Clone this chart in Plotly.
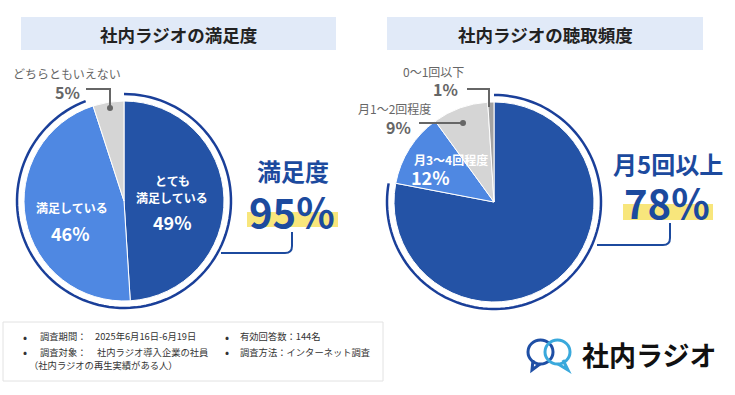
import numpy as np
import plotly.graph_objects as go

# ---- data ----
sat_labels = ["とても満足している", "満足している", "どちらともいえない"]
sat_values = [49, 46, 5]
sat_colors = ["#2453a6", "#4f88e2", "#d5d5d5"]

freq_labels = ["月5回以上", "月3〜4回程度", "月1〜2回程度", "0〜1回以下"]
freq_values = [78, 12, 9, 1]
freq_colors = ["#2453a6", "#4f88e2", "#d5d5d5", "#a2a2a2"]

titles = ["社内ラジオの満足度", "社内ラジオの聴取頻度"]
note_keys = ["調査期間：", "調査対象："]
note_vals = ["2025年6月16日-6月19日", "社内ラジオ導入企業の社員"]
notes_right = ["有効回答数：144名", "調査方法：インターネット調査"]
note_extra = "（社内ラジオの再生実績がある人）"
brand = "社内ラジオ"

W, H = 735, 395
FONT = "Noto Sans CJK JP"
DARK = "#1c4a9e"
GRAYT = "#666666"


def px_dom(cx, cy, r):
    return dict(x=[(cx - r) / W, (cx + r) / W], y=[1 - (cy + r) / H, 1 - (cy - r) / H])


fig = go.Figure()
fig.add_trace(go.Pie(labels=sat_labels, values=sat_values, sort=False, direction="clockwise",
                     rotation=0, textinfo="none", hoverinfo="label+percent",
                     marker=dict(colors=sat_colors, line=dict(color="white", width=1)),
                     domain=px_dom(124, 201, 100), showlegend=False))
fig.add_trace(go.Pie(labels=freq_labels, values=freq_values, sort=False, direction="clockwise",
                     rotation=0, textinfo="none", hoverinfo="label+percent",
                     marker=dict(colors=freq_colors, line=dict(color="white", width=1)),
                     domain=px_dom(494, 202, 100), showlegend=False))

shapes = []
ann = []


def ring(cx, cy, r, a0, a1):
    a = np.radians(np.linspace(a0, a1, 120))
    xs = cx + r * np.sin(a)
    ys = cy - r * np.cos(a)
    p = "M " + " L ".join(f"{x:.2f},{y:.2f}" for x, y in zip(xs, ys))
    return dict(type="path", path=p, xref="x", yref="y", line=dict(color="#1a3f99", width=2.5))


shapes.append(ring(124, 201, 107, 0, 339))
shapes.append(ring(494, 202, 107, 0, 280))

# title boxes
for (x0, x1), t in zip([(21, 336), (387, 703)], titles):
    shapes.append(dict(type="rect", xref="x", yref="y", x0=x0, x1=x1, y0=17, y1=50,
                       fillcolor="#e1eaf8", line=dict(width=0), layer="below"))
    ann.append(dict(x=(x0 + x1) / 2, y=34, text=f"<b>{t}</b>", font=dict(size=17.5, color="#222")))

# yellow highlights
shapes.append(dict(type="rect", xref="x", yref="y", x0=247, x1=338, y0=212, y1=227,
                   fillcolor="#f8e67c", line=dict(width=0)))
shapes.append(dict(type="rect", xref="x", yref="y", x0=623, x1=713, y0=204, y1=220,
                   fillcolor="#f8e67c", line=dict(width=0)))

# big-label connectors
shapes.append(dict(type="path", xref="x", yref="y",
                   path="M 221,253 L 285,253 Q 292,253 292,246 L 292,232",
                   line=dict(color=DARK, width=2)))
shapes.append(dict(type="path", xref="x", yref="y",
                   path="M 597,245 L 663,245 Q 670,245 670,238 L 670,223",
                   line=dict(color=DARK, width=2)))

# small-label connectors
shapes.append(dict(type="path", xref="x", yref="y", path="M 86,89 L 110,89 L 110,108",
                   line=dict(color=GRAYT, width=2)))
shapes.append(dict(type="circle", xref="x", yref="y", x0=107, x1=113, y0=105, y1=111,
                   fillcolor=GRAYT, line=dict(width=0)))
shapes.append(dict(type="path", xref="x", yref="y", path="M 467,89 L 489,89 L 489,107",
                   line=dict(color=GRAYT, width=2)))
shapes.append(dict(type="path", xref="x", yref="y", path="M 419,123 L 463,123",
                   line=dict(color=GRAYT, width=2)))
shapes.append(dict(type="circle", xref="x", yref="y", x0=460, x1=466, y0=120, y1=126,
                   fillcolor=GRAYT, line=dict(width=0)))

# left pie labels
ann.append(dict(x=172, y=180, text="<b>とても</b>", font=dict(size=12, color="white")))
ann.append(dict(x=172, y=197, text="<b>" + sat_labels[0][3:] + "</b>", font=dict(size=12, color="white")))
ann.append(dict(x=172, y=222, text=f"<b>{sat_values[0]}%</b>", font=dict(size=18, color="white")))
ann.append(dict(x=72, y=207, text=f"<b>{sat_labels[1]}</b>", font=dict(size=12, color="white")))
ann.append(dict(x=70, y=233, text=f"<b>{sat_values[1]}%</b>", font=dict(size=18, color="white")))
ann.append(dict(x=67, y=73, text=sat_labels[2], font=dict(size=12, color=GRAYT)))
ann.append(dict(x=67, y=92, text=f"<b>{sat_values[2]}%</b>", font=dict(size=16, color=GRAYT)))
ann.append(dict(x=293, y=170, text="<b>満足度</b>", font=dict(size=24, color=DARK), height=32))
ann.append(dict(x=292, y=211, text=f"<b>{sat_values[0] + sat_values[1]}%</b>",
                font=dict(size=40, color=DARK), height=44))

# right pie labels
ann.append(dict(x=433, y=71, text=freq_labels[3], font=dict(size=12, color=GRAYT)))
ann.append(dict(x=445, y=89, text=f"<b>{freq_values[3]}%</b>", font=dict(size=16, color=GRAYT)))
ann.append(dict(x=394, y=107.5, text=freq_labels[2], font=dict(size=12, color=GRAYT), height=16))
ann.append(dict(x=398, y=126.5, text=f"<b>{freq_values[2]}%</b>", font=dict(size=16, color=GRAYT), height=20))
ann.append(dict(x=412, y=159, text=f"<b>{freq_labels[1]}</b>", font=dict(size=12, color="white"), xanchor="left"))
ann.append(dict(x=409, y=177, text=f"<b>{freq_values[1]}%</b>", font=dict(size=18, color="white"), xanchor="left"))
ann.append(dict(x=668, y=163, text=f"<b>{freq_labels[0]}</b>", font=dict(size=24, color=DARK), height=32))
ann.append(dict(x=667, y=202, text=f"<b>{freq_values[0]}%</b>", font=dict(size=40, color=DARK), height=44))

# notes box
shapes.append(dict(type="rect", xref="x", yref="y", x0=3, x1=383, y0=322, y1=381,
                   fillcolor="white", line=dict(color="#e2e2e2", width=1)))
NS = 9.3
for i, (k, v) in enumerate(zip(note_keys, note_vals)):
    y = 336 + i * 15.5
    ann.append(dict(x=25, y=y, text="•", font=dict(size=12, color="#333")))
    ann.append(dict(x=38, y=y, text=k, xanchor="left", font=dict(size=NS, color="#333")))
    ann.append(dict(x=93 + 2 * i, y=y, text=v, xanchor="left", font=dict(size=NS, color="#333")))
for i, t in enumerate(notes_right):
    y = 336 + i * 15.5
    ann.append(dict(x=227, y=y, text="•", font=dict(size=12, color="#333")))
    ann.append(dict(x=238, y=y, text=t, xanchor="left", font=dict(size=NS, color="#333")))
ann.append(dict(x=27, y=365, text=note_extra, xanchor="left", font=dict(size=NS, color="#333")))

# logo
shapes.append(dict(type="circle", xref="x", yref="y", x0=528, x1=553, y0=340, y1=364,
                   line=dict(color="#1f4fa5", width=3)))
shapes.append(dict(type="circle", xref="x", yref="y", x0=545, x1=570, y0=340, y1=364,
                   line=dict(color="#3aa9dc", width=3)))
shapes.append(dict(type="path", xref="x", yref="y", path="M 533,360 L 532,370 L 540,364",
                   line=dict(color="#1f4fa5", width=3)))
shapes.append(dict(type="path", xref="x", yref="y", path="M 563,360 L 568,370 L 558,364",
                   line=dict(color="#3aa9dc", width=3)))
ann.append(dict(x=580, y=354, text=f"<b>{brand}</b>", xanchor="left", font=dict(size=27, color="#111")))

for a in ann:
    a.setdefault("xref", "x")
    a.setdefault("yref", "y")
    a.setdefault("showarrow", False)
    a.setdefault("xanchor", "center")
    a.setdefault("yanchor", "middle")

fig.update_layout(
    width=W, height=H, margin=dict(l=0, r=0, t=0, b=0),
    paper_bgcolor="white", plot_bgcolor="white",
    font=dict(family=FONT),
    xaxis=dict(range=[0, W], visible=False, fixedrange=True),
    yaxis=dict(range=[H, 0], visible=False, fixedrange=True),
    shapes=shapes, annotations=ann, showlegend=False,
)
fig.write_html("out.html", config={"displayModeBar": False},
               post_script="document.body.style.margin='0';")
